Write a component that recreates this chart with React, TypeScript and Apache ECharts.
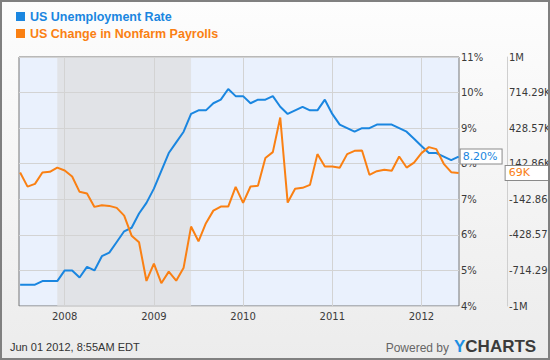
import { useEffect, useRef } from "react";
import * as echarts from "echarts";

// Monthly observations, June 2007 .. May 2012 (plotted at month end)
const startYear = 2007;
const startMonth = 6;
const unemployment: number[] = [
  4.6, 4.6, 4.6, 4.7, 4.7, 4.7, 5.0,
  5.0, 4.8, 5.1, 5.0, 5.4, 5.5, 5.8, 6.1, 6.2, 6.6, 6.9, 7.3,
  7.8, 8.3, 8.6, 8.9, 9.4, 9.5, 9.5, 9.7, 9.8, 10.1, 9.9, 9.9,
  9.7, 9.8, 9.8, 9.9, 9.6, 9.4, 9.5, 9.6, 9.5, 9.5, 9.8, 9.4,
  9.1, 9.0, 8.9, 9.0, 9.0, 9.1, 9.1, 9.1, 9.0, 8.9, 8.7, 8.5,
  8.3, 8.3, 8.2, 8.1, 8.2,
];
// thousands of jobs
const payrolls: number[] = [
  72, -41, -19, 72, 78, 112, 88,
  40, -83, -97, -204, -190, -196, -212, -274, -435, -488, -799, -660,
  -817, -724, -797, -692, -362, -480, -335, -234, -201, -201, -43, -172,
  -40, -35, 188, 236, 514, -169, -59, -51, -27, 220, 120, 120,
  110, 220, 246, 249, 54, 83, 94, 86, 201, 112, 152, 228,
  276, 260, 142, 75, 69,
];
const yearTicks: number[] = [2008, 2009, 2010, 2011, 2012];
const recession = { start: [2007, 12], end: [2009, 6] };
const pctTicks = { min: 4, max: 11, step: 1 };
const payrollRange = { min: -1000, max: 1000, parts: 7 };

const BLUE = "#1a86e0";
const ORANGE = "#fa8013";

// x position: months since start of 2008
const monthStartX = (y: number, m: number) => (y - 2008) * 12 + (m - 1);
const monthEndX = (y: number, m: number) => (y - 2008) * 12 + m;

const xs: number[] = unemployment.map((_, i) => {
  const total = startMonth - 1 + i;
  const y = startYear + Math.floor(total / 12);
  const m = (total % 12) + 1;
  return monthEndX(y, m);
});

const payrollTickValues = Array.from(
  { length: payrollRange.parts + 1 },
  (_, i) => payrollRange.min + (i * (payrollRange.max - payrollRange.min)) / payrollRange.parts
);

const fmtPayroll = (v: number) => {
  if (Math.abs(Math.abs(v) - 1000) < 1e-6) return (v < 0 ? "-" : "") + "1M";
  return v.toFixed(2) + "K";
};

export default function App() {
  const ref = useRef<HTMLDivElement>(null);
  useEffect(() => {
    document.body.style.margin = "0";
    const chart = echarts.init(ref.current!, undefined, { renderer: "svg" });
    const axisFont = { fontFamily: "DejaVu Sans", fontSize: 10, color: "#3a3a3a" };
    chart.setOption({
      animation: false,
      legend: {
        orient: "vertical",
        left: 11,
        top: 5,
        itemWidth: 9,
        itemHeight: 9,
        itemGap: 4,
        icon: "rect",
        selectedMode: false,
        textStyle: { fontFamily: "Liberation Sans", fontWeight: "bold", fontSize: 12.5 },
        data: [
          { name: "US Unemployment Rate", textStyle: { color: BLUE } },
          { name: "US Change in Nonfarm Payrolls", textStyle: { color: ORANGE } },
        ],
      },
      grid: {
        left: 19,
        right: 91,
        top: 57,
        bottom: 54,
        show: true,
        backgroundColor: "#eaf1fd",
        borderColor: "#777",
        borderWidth: 1,
        outerBoundsMode: "none",
      },
      xAxis: {
        type: "value",
        min: monthEndX(startYear, startMonth) - 0.15,
        max: xs[xs.length - 1] + 0.05,
        z: 1.5,
        axisLine: { show: false },
        axisTick: { show: false, customValues: yearTicks.map((y) => monthStartX(y, 1)) },
        axisLabel: {
          ...axisFont,
          margin: 5,
          customValues: yearTicks.map((y) => monthStartX(y, 1)),
          formatter: (v: number) => String(2008 + Math.round(v / 12)),
        },
        splitLine: { show: true, lineStyle: { color: "#d3d3d3", width: 1 } },
      },
      yAxis: [
        {
          type: "value",
          position: "right",
          min: pctTicks.min,
          max: pctTicks.max,
          interval: pctTicks.step,
          z: 1.5,
          axisLine: { show: false },
          axisTick: { show: false },
          axisLabel: { ...axisFont, margin: 2, formatter: "{value}%" },
          splitLine: { show: true, lineStyle: { color: "#d3d3d3", width: 1 } },
        },
        {
          type: "value",
          position: "right",
          offset: 48,
          min: payrollRange.min,
          max: payrollRange.max,
          z: 1.5,
          axisLine: { show: true, lineStyle: { color: "#cfcfcf", width: 1 } },
          axisTick: { show: false, customValues: payrollTickValues },
          axisLabel: {
            ...axisFont,
            margin: 2,
            customValues: payrollTickValues,
            formatter: (v: number) => fmtPayroll(v),
          },
          splitLine: { show: false },
        },
      ],
      series: [
        {
          name: "US Unemployment Rate",
          type: "line",
          yAxisIndex: 0,
          z: 3,
          symbol: "none",
          color: BLUE,
          lineStyle: { width: 2, color: BLUE },
          data: xs.map((x, i) => [x, unemployment[i]]),
          endLabel: {
            show: true,
            distance: 2,
            formatter: (p: any) => p.value[1].toFixed(2) + "%",
            color: BLUE,
            fontFamily: "DejaVu Sans",
            fontSize: 11,
            backgroundColor: "#fff",
            borderColor: "#8a8a8a",
            borderWidth: 1,
            padding: [2, 4, 1, 2],
          },
          markArea: {
            silent: true,
            z: 1,
            itemStyle: { color: "rgba(222,222,222,0.72)" },
            data: [
              [
                { xAxis: monthStartX(recession.start[0], recession.start[1]) },
                { xAxis: monthStartX(recession.end[0], recession.end[1]) },
              ],
            ],
          },
        },
        {
          name: "US Change in Nonfarm Payrolls",
          type: "line",
          yAxisIndex: 1,
          z: 3,
          symbol: "none",
          color: ORANGE,
          lineStyle: { width: 2, color: ORANGE },
          data: xs.map((x, i) => [x, payrolls[i]]),
          endLabel: {
            show: true,
            distance: 47,
            formatter: (p: any) => Math.round(p.value[1]) + "K",
            color: ORANGE,
            fontFamily: "DejaVu Sans",
            fontSize: 11,
            backgroundColor: "#fff",
            borderColor: "#8a8a8a",
            borderWidth: 1,
            padding: [2, 20, 1, 3],
          },
        },
      ],
      graphic: [
        {
          type: "text",
          left: 10,
          top: 341,
          style: {
            text: "Jun 01 2012, 8:55AM EDT",
            fontFamily: "Liberation Sans",
            fontSize: 11,
            fill: "#333",
          },
        },
        {
          type: "text",
          x: 449,
          y: 348,
          style: {
            text: "Powered by",
            fontFamily: "Liberation Sans",
            fontSize: 12,
            fill: "#666",
            align: "right",
            verticalAlign: "middle",
            textAlign: "right",
            textVerticalAlign: "middle",
          },
        },
        {
          type: "text",
          x: 454,
          y: 346,
          style: {
            text: "{y|Y}{c|CHARTS}",
            verticalAlign: "middle",
            textVerticalAlign: "middle",
            rich: {
              y: { fontFamily: "Liberation Sans", fontWeight: "bold", fontSize: 17, fill: "#1e8fe2", color: "#1e8fe2" },
              c: { fontFamily: "Liberation Sans", fontWeight: "bold", fontSize: 17, fill: "#3b3b3b", color: "#3b3b3b" },
            },
          },
        },
      ],
    });
    return () => chart.dispose();
  }, []);
  return (
    <div
      style={{
        position: "fixed",
        left: 0,
        top: 0,
        width: 550,
        height: 360,
        background: "linear-gradient(#fdfdfd, #ececec)",
      }}
    >
      <div ref={ref} style={{ position: "absolute", left: 0, top: 0, width: 550, height: 360 }} />
      <div
        style={{
          position: "absolute",
          left: 0,
          top: 0,
          width: 550,
          height: 360,
          boxSizing: "border-box",
          border: "2px solid #808080",
          pointerEvents: "none",
        }}
      />
    </div>
  );
}
